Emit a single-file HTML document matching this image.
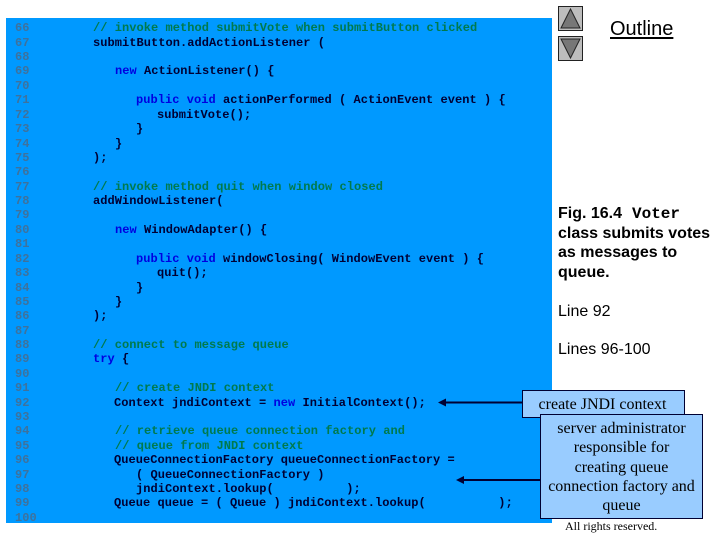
<!DOCTYPE html>
<html><head><meta charset="utf-8">
<style>
html,body{margin:0;padding:0;background:#fff;width:720px;height:540px;overflow:hidden}
#r{position:absolute;left:0;top:0;width:720px;height:540px;overflow:hidden}
.a{position:absolute}
#code{position:absolute;left:6px;top:18px;width:546px;height:505px;background:#0099ff}
.l{position:absolute;white-space:pre;font:bold 12px/14px "Liberation Mono",monospace;letter-spacing:.05px;color:#000033;transform:translateY(-7px)}
.n{left:15px;color:#3f729c}
.c{color:#007a4d}
.k{color:#0000e0}
.s{font-family:"Liberation Sans",sans-serif;font-size:16px;line-height:19.5px;color:#000;white-space:pre}
.box{position:absolute;background:#99ccff;border:1px solid #000033;box-sizing:border-box;font-family:"Liberation Serif",serif;font-size:16px;color:#000;text-align:center;white-space:nowrap}
</style></head><body><div id="r">
<div id="code"></div>

<div class="l n" style="top:28px">66</div><div class="l" style="left:93px;top:28px"><span class="c">// invoke method submitVote when submitButton clicked</span></div>
<div class="l n" style="top:43px">67</div><div class="l" style="left:93px;top:43px">submitButton.addActionListener (</div>
<div class="l n" style="top:57px">68</div>
<div class="l n" style="top:71px">69</div><div class="l" style="left:115px;top:71px"><span class="k">new</span> ActionListener() {</div>
<div class="l n" style="top:86px">70</div>
<div class="l n" style="top:100px">71</div><div class="l" style="left:136px;top:100px"><span class="k">public void</span> actionPerformed ( ActionEvent event ) {</div>
<div class="l n" style="top:115px">72</div><div class="l" style="left:157px;top:115px">submitVote();</div>
<div class="l n" style="top:129px">73</div><div class="l" style="left:136px;top:129px">}</div>
<div class="l n" style="top:144px">74</div><div class="l" style="left:115px;top:144px">}</div>
<div class="l n" style="top:158px">75</div><div class="l" style="left:93px;top:158px">);</div>
<div class="l n" style="top:172px">76</div>
<div class="l n" style="top:187px">77</div><div class="l" style="left:93px;top:187px"><span class="c">// invoke method quit when window closed</span></div>
<div class="l n" style="top:201px">78</div><div class="l" style="left:93px;top:201px">addWindowListener(</div>
<div class="l n" style="top:215px">79</div>
<div class="l n" style="top:230px">80</div><div class="l" style="left:115px;top:230px"><span class="k">new</span> WindowAdapter() {</div>
<div class="l n" style="top:244px">81</div>
<div class="l n" style="top:259px">82</div><div class="l" style="left:136px;top:259px"><span class="k">public void</span> windowClosing( WindowEvent event ) {</div>
<div class="l n" style="top:273px">83</div><div class="l" style="left:157px;top:273px">quit();</div>
<div class="l n" style="top:288px">84</div><div class="l" style="left:136px;top:288px">}</div>
<div class="l n" style="top:302px">85</div><div class="l" style="left:115px;top:302px">}</div>
<div class="l n" style="top:316px">86</div><div class="l" style="left:93px;top:316px">);</div>
<div class="l n" style="top:331px">87</div>
<div class="l n" style="top:345px">88</div><div class="l" style="left:93px;top:345px"><span class="c">// connect to message queue</span></div>
<div class="l n" style="top:359px">89</div><div class="l" style="left:93px;top:359px"><span class="k">try</span> {</div>
<div class="l n" style="top:374px">90</div>
<div class="l n" style="top:388px">91</div><div class="l" style="left:115px;top:388px"><span class="c">// create JNDI context</span></div>
<div class="l n" style="top:403px">92</div><div class="l" style="left:114px;top:403px">Context jndiContext = <span class="k">new</span> InitialContext();</div>
<div class="l n" style="top:417px">93</div>
<div class="l n" style="top:431px">94</div><div class="l" style="left:115px;top:431px"><span class="c">// retrieve queue connection factory and</span></div>
<div class="l n" style="top:446px">95</div><div class="l" style="left:115px;top:446px"><span class="c">// queue from JNDI context</span></div>
<div class="l n" style="top:460px">96</div><div class="l" style="left:114px;top:460px">QueueConnectionFactory queueConnectionFactory =</div>
<div class="l n" style="top:475px">97</div><div class="l" style="left:136px;top:475px">( QueueConnectionFactory )</div>
<div class="l n" style="top:489px">98</div><div class="l" style="left:136px;top:489px">jndiContext.lookup(          );</div>
<div class="l n" style="top:503px">99</div><div class="l" style="left:114px;top:503px">Queue queue = ( Queue ) jndiContext.lookup(          );</div>
<div class="l n" style="top:518px">100</div>

<svg class="a" style="left:0;top:0" width="720" height="540">
  <rect x="558.5" y="6.5" width="24" height="24" fill="#bdbdbd" stroke="#222"/>
  <polygon points="570.5,9 580,28 561,28" fill="#777" stroke="#222"/>
  <rect x="558.5" y="36.5" width="24" height="24" fill="#bdbdbd" stroke="#222"/>
  <polygon points="561,39 580,39 570.5,58" fill="#777" stroke="#222"/>
  <line x1="444" y1="402.5" x2="525" y2="402.5" stroke="#000033" stroke-width="2"/>
  <polygon points="438,402.5 446,398.5 446,406.5" fill="#000033"/>
  <line x1="462" y1="480" x2="542" y2="480" stroke="#000033" stroke-width="2"/>
  <polygon points="456,480 464,476 464,484" fill="#000033"/>
</svg>

<div class="a" style="left:610px;top:17px;font:20px/24px 'Liberation Sans',sans-serif;color:#000;text-decoration:underline;text-underline-offset:2px">Outline</div>

<div class="a s" style="left:558px;top:204px;font-weight:bold">Fig. 16.4  <span style="font-family:'Liberation Mono',monospace;font-size:16px;font-weight:bold;position:absolute;left:74px;top:1px">Voter</span>
class submits votes
as messages to
queue.</div>
<div class="a s" style="left:558px;top:302px">Line 92</div>
<div class="a s" style="left:558px;top:340px">Lines 96-100</div>

<div class="box" style="left:522px;top:390px;width:163px;height:28px;line-height:27px;padding-right:2px">create JNDI context</div>
<div class="box" style="left:540px;top:414px;width:163px;height:105px;padding-top:4px;line-height:19.3px">server administrator<br>responsible for<br>creating queue<br>connection factory and<br>queue</div>

<div class="a" style="left:565px;top:519px;font:12px/14px 'Liberation Serif',serif;color:#000">All rights reserved.</div>
</div></body></html>
